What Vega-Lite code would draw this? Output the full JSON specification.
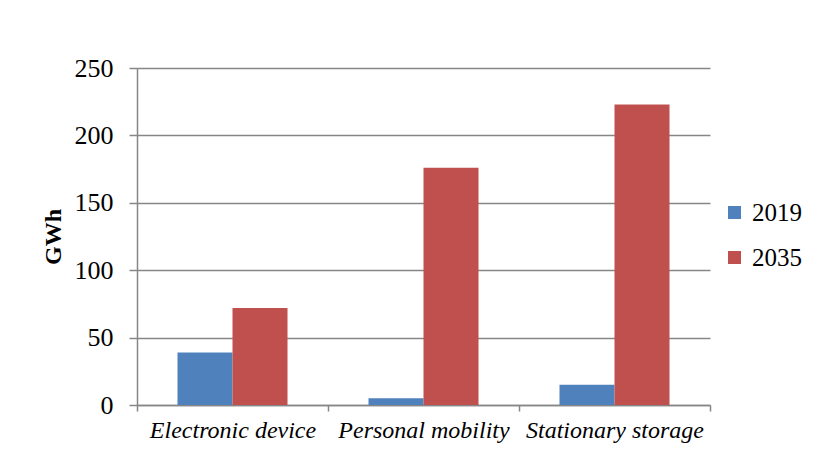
{
  "$schema": "https://vega.github.io/schema/vega-lite/v6.json",
  "width": 573,
  "height": 337,
  "autosize": {"type": "none"},
  "padding": {"left": 137, "top": 68, "right": 104, "bottom": 48},
  "background": "white",
  "data": {
    "values": [
      {"category": "Electronic device", "year": "2019", "gwh": 39},
      {"category": "Electronic device", "year": "2035", "gwh": 72},
      {"category": "Personal mobility", "year": "2019", "gwh": 5},
      {"category": "Personal mobility", "year": "2035", "gwh": 176},
      {"category": "Stationary storage", "year": "2019", "gwh": 15},
      {"category": "Stationary storage", "year": "2035", "gwh": 223}
    ]
  },
  "mark": {"type": "bar"},
  "encoding": {
    "x": {
      "field": "category",
      "type": "nominal",
      "sort": null,
      "scale": {"paddingInner": 0, "paddingOuter": 0},
      "axis": {
        "title": null,
        "labelAngle": 0,
        "labelFont": "Liberation Serif",
        "labelFontStyle": "italic",
        "labelFontSize": 24,
        "labelColor": "black",
        "labelPadding": 7,
        "tickBand": "extent",
        "tickSize": 6,
        "tickColor": "#868686",
        "domainColor": "#868686",
        "domainWidth": 1.5,
        "tickWidth": 1.5
      }
    },
    "xOffset": {"field": "year", "type": "nominal", "scale": {"paddingInner": 0, "paddingOuter": 0.736}},
    "y": {
      "field": "gwh",
      "type": "quantitative",
      "scale": {"domain": [0, 250], "nice": false},
      "axis": {
        "title": "GWh",
        "titleFont": "Liberation Serif",
        "titleFontSize": 24,
        "titleFontWeight": "bold",
        "titleColor": "black",
        "titlePadding": 9,
        "values": [0, 50, 100, 150, 200, 250],
        "labelFont": "Liberation Serif",
        "labelFontSize": 26,
        "labelColor": "black",
        "labelPadding": 16,
        "tickSize": 8,
        "tickColor": "#868686",
        "domainColor": "#868686",
        "domainWidth": 1.5,
        "tickWidth": 1.5,
        "grid": true,
        "gridColor": "#868686",
        "gridWidth": 1.5
      }
    },
    "color": {
      "field": "year",
      "type": "nominal",
      "scale": {"domain": ["2019", "2035"], "range": ["#4F81BD", "#C0504D"]},
      "legend": {
        "title": null,
        "orient": "none",
        "legendX": 585,
        "legendY": 132,
        "symbolType": "square",
        "symbolSize": 169,
        "symbolStrokeWidth": 0,
        "labelFont": "Liberation Serif",
        "labelFontSize": 25,
        "labelColor": "black",
        "labelOffset": 5,
        "rowPadding": 19
      }
    }
  },
  "config": {
    "font": "Liberation Serif",
    "view": {"stroke": null}
  }
}
